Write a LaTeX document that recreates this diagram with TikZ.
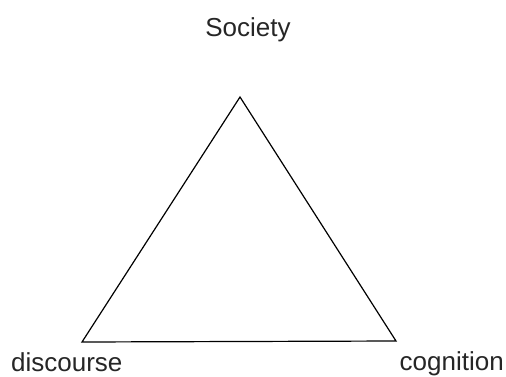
\documentclass[tikz,border=0pt]{standalone}
\usepackage{fontspec}
\setmainfont{Liberation Sans}
\begin{document}
\begin{tikzpicture}[x=1bp,y=1bp,
  lbl/.style={inner sep=0pt,font=\fontsize{26bp}{30bp}\selectfont,text=black!85},
  edge/.style={draw=black,line width=1.2bp,line join=miter}]
\useasboundingbox (0,0) rectangle (506,376);
\coordinate (top) at (240,279);
\coordinate (bl) at (82,34);
\coordinate (br) at (396,35);
\draw[edge] (top) -- (bl) -- (br) -- cycle;
\node[lbl,anchor=base] (soc) at (248,340) {Society};
\node[lbl,anchor=base west] (dis) at (11,5) {discourse};
\node[lbl,anchor=base east] (cog) at (504,6) {cognition};
\end{tikzpicture}
\end{document}
